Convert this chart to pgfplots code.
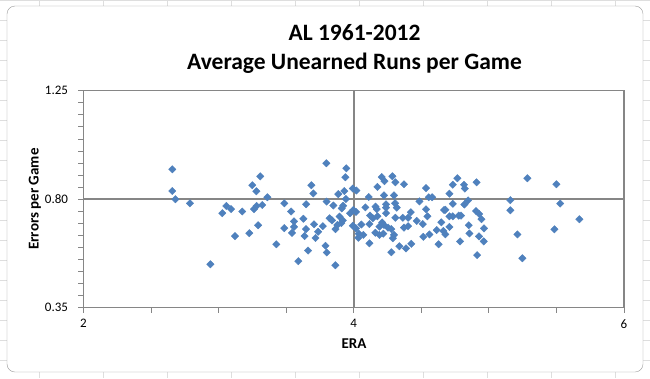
\documentclass[border=0pt]{standalone}
\usepackage{fontspec}
\setmainfont{Carlito}
\usepackage{pgfplots}
\pgfplotsset{compat=1.18}
\definecolor{mk}{HTML}{4F81BD}
\definecolor{gl}{HTML}{868686}
\pgfplotstableread{
x y
2.657 0.924
2.657 0.834
2.680 0.800
2.788 0.783
2.939 0.530
3.027 0.742
3.057 0.772
3.092 0.759
3.175 0.749
3.121 0.647
3.227 0.659
3.249 0.858
3.279 0.833
3.308 0.895
3.361 0.808
3.323 0.776
3.281 0.772
3.262 0.759
3.292 0.692
3.427 0.613
3.486 0.783
3.536 0.749
3.627 0.719
3.558 0.708
3.558 0.685
3.543 0.660
3.486 0.680
3.590 0.543
3.636 0.647
3.648 0.779
3.797 0.949
3.945 0.928
3.938 0.891
3.686 0.858
3.701 0.824
3.930 0.834
3.993 0.844
4.019 0.836
3.885 0.821
4.111 0.809
3.799 0.790
3.849 0.774
3.942 0.801
3.922 0.773
3.911 0.762
4.086 0.766
4.161 0.769
3.647 0.676
3.706 0.696
3.736 0.665
3.717 0.639
3.771 0.688
3.821 0.721
3.839 0.712
3.895 0.728
3.919 0.712
3.879 0.693
3.865 0.676
3.908 0.701
3.973 0.742
3.997 0.755
4.017 0.747
3.993 0.690
4.017 0.679
4.037 0.657
4.071 0.652
4.056 0.695
4.116 0.697
4.141 0.721
4.116 0.617
3.662 0.587
3.791 0.607
3.800 0.579
3.864 0.526
4.034 0.640
4.207 0.892
4.227 0.875
4.286 0.895
4.308 0.870
4.175 0.851
4.372 0.862
4.535 0.846
4.224 0.816
4.298 0.816
4.555 0.808
4.580 0.808
4.486 0.791
4.170 0.759
4.239 0.779
4.239 0.765
4.306 0.783
4.318 0.765
4.535 0.758
4.668 0.755
4.422 0.746
4.239 0.742
4.545 0.729
4.121 0.732
4.175 0.729
4.308 0.723
4.363 0.723
4.402 0.723
4.466 0.710
4.511 0.697
4.648 0.704
4.210 0.704
4.224 0.693
4.190 0.686
4.254 0.682
4.278 0.676
4.372 0.682
4.402 0.688
4.614 0.672
4.663 0.668
4.160 0.661
4.190 0.652
4.219 0.657
4.298 0.652
4.289 0.638
4.515 0.644
4.560 0.654
4.426 0.615
4.338 0.605
4.387 0.596
4.628 0.613
4.278 0.580
4.767 0.887
4.733 0.860
4.816 0.860
4.822 0.844
4.909 0.870
4.708 0.823
4.733 0.781
4.819 0.778
4.846 0.795
5.159 0.796
5.159 0.754
4.678 0.756
4.905 0.751
4.928 0.739
4.945 0.717
4.708 0.729
4.733 0.729
4.777 0.732
4.794 0.732
4.708 0.685
4.851 0.692
4.964 0.679
4.678 0.654
4.856 0.658
4.927 0.646
4.962 0.625
4.787 0.625
4.913 0.568
5.285 0.887
5.500 0.862
5.528 0.782
5.670 0.717
5.211 0.654
5.485 0.675
5.248 0.555
}\dataAL
\begin{document}
\begin{tikzpicture}
\path[use as bounding box] (0pt,0pt) rectangle (650pt,-378pt);
\fill[white] (0pt,0pt) rectangle (650pt,-378pt);
\foreach \yy in {0,20,...,380} \draw[black!13] (0pt,-\yy pt) -- (650pt,-\yy pt);
\foreach \xx in {39,103,...,650} \draw[black!13] (\xx pt,0pt) -- (\xx pt,-378pt);
\draw[black!40, fill=white, rounded corners=8pt] (7pt,-6pt) rectangle (643pt,-372pt);
\coordinate (A) at (83.5pt,-90.7pt);
\begin{axis}[
  at={(A)}, anchor=north west,
  scale only axis, width=540.5pt, height=217pt,
  xmin=2, xmax=6, ymin=0.35, ymax=1.25,
  xtick={2,4,6}, ytick={0.35,0.80,1.25},
  minor xtick={2.5,3,3.5,4.5,5,5.5},
  minor ytick={0.40,0.45,0.50,0.55,0.60,0.65,0.70,0.75,0.85,0.90,0.95,1.00,1.05,1.10,1.15,1.20},
  /pgf/number format/assume math mode=true,
  ticklabel style={font=\fontsize{13}{15}\selectfont},
  yticklabel style={xshift=-7pt,/pgf/number format/.cd,fixed,fixed zerofill,precision=2},
  xticklabel style={yshift=-3pt},
  grid=major, major grid style={gl, line width=1.5pt},
  axis line style={gl, line width=1pt},
  tick style={gl, line width=0.8pt},
  tick align=outside, tick pos=left,
  major tick length=5pt, minor tick length=5pt,
  clip=false,
]
\addplot[only marks, mark=square*, mark size=2.6pt,
  mark options={rotate=45, fill=mk, draw=mk}] table[x=x,y=y] {\dataAL};
\end{axis}
\node[font=\bfseries\fontsize{23.5}{28}\selectfont, anchor=base] at (354.5pt,-40.7pt) {AL 1961-2012};
\node[font=\bfseries\fontsize{23.5}{28}\selectfont, anchor=base] at (354.5pt,-69pt) {Average Unearned Runs per Game};
\node[font=\bfseries\fontsize{15}{18}\selectfont, anchor=base] at (354pt,-348pt) {ERA};
\node[font=\bfseries\fontsize{15}{18}\selectfont, rotate=90] at (35pt,-199pt) {Errors per Game};
\end{tikzpicture}
\end{document}
